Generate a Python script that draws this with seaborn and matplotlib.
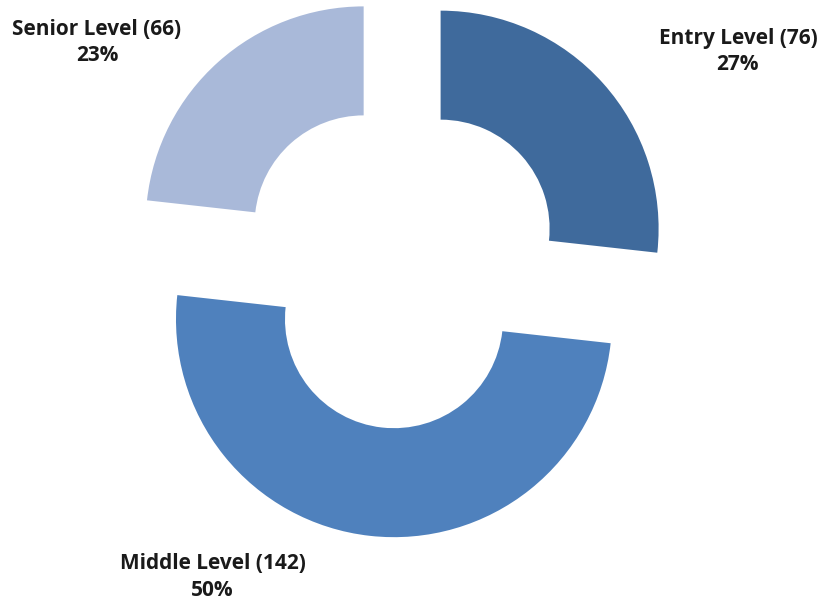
import seaborn as sns
import numpy as np
import matplotlib.pyplot as plt

sns.set_style('white')
plt.rcParams['font.family'] = ['Open Sans', 'DejaVu Sans']

levels = ['Entry Level', 'Middle Level', 'Senior Level']
counts = [76, 142, 66]
colors = ['#3F6A9C', '#4F81BD', '#A9B9D9']
# label anchor points (data units, radius = 1)
label_pos = [(1.55, 0.98), (-0.86, -1.43), (-1.39, 1.02)]

fig = plt.figure(figsize=(8.23, 6.01), dpi=100)
ax = fig.add_axes([0, 0, 1, 1])

total = sum(counts)
wedges, _ = ax.pie(counts, colors=colors, startangle=90, counterclock=False,
                   explode=[0.25] * len(counts), radius=1,
                   wedgeprops=dict(width=0.5, linewidth=0))

for lvl, c, (x, y) in zip(levels, counts, label_pos):
    pct = round(100 * c / total)
    ax.text(x, y, f'{lvl} ({c})\n{pct}%', ha='center', va='center',
            fontsize=15, fontweight='bold', color='#1a1a1a', linespacing=1.35)

# pixel-matched limits: 218 px per unit, pie centre at (400, 265)
ppu = 218
ax.set_xlim(-400 / ppu, 423 / ppu)
ax.set_ylim(-(601 - 265) / ppu, 265 / ppu)
ax.set_aspect('auto')
ax.axis('off')

fig.savefig('out.png', dpi=100, facecolor='white')
